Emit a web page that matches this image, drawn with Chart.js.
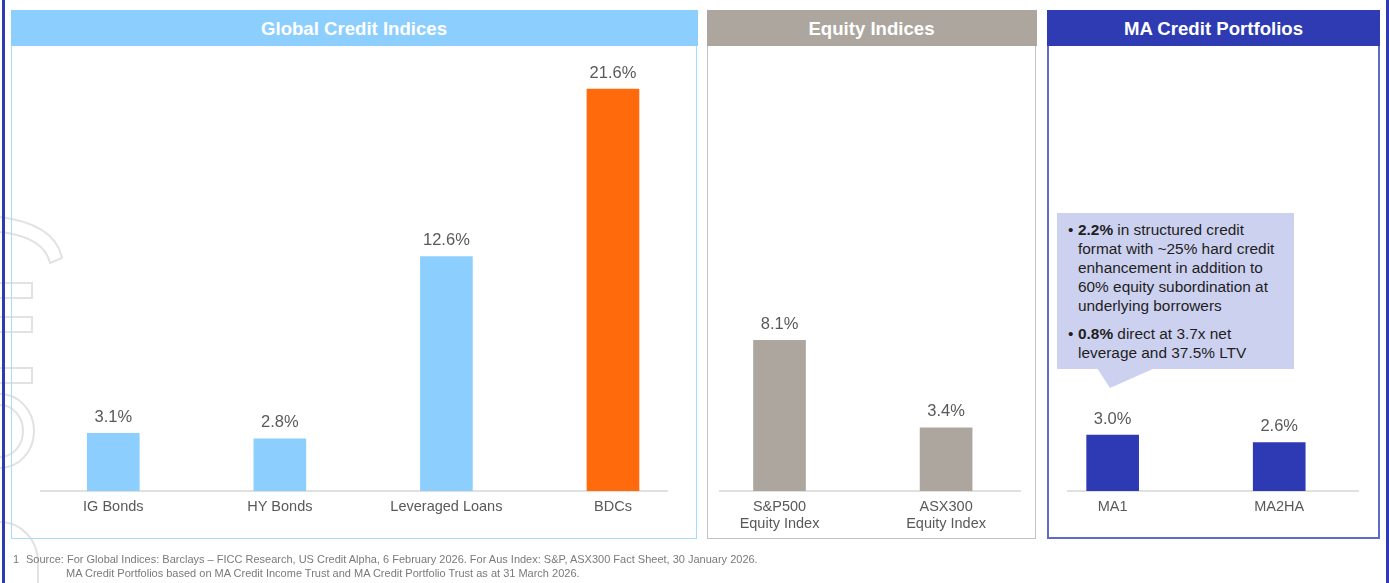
<!DOCTYPE html>
<html>
<head>
<meta charset="utf-8">
<script src="https://cdn.jsdelivr.net/npm/chart.js@4.4.1/dist/chart.umd.min.js"></script>
<style>
  html, body { margin: 0; padding: 0; background: #fff; }
  body { width: 1389px; height: 583px; position: relative; overflow: hidden; font-family: "Liberation Sans", Arial, sans-serif; }
  .edge { position: absolute; top: 0; width: 2.5px; height: 583px; background: #2e3bb3; }
  .panel { position: absolute; top: 10px; height: 529px; box-sizing: border-box; }
  .panel .head { height: 36px; line-height: 37px; text-align: center; color: #fff; font-weight: bold; font-size: 18.6px; }
  #p1 { left: 11px; width: 686px; border: 1.5px solid #a8dcff; }
  #p1 .head { background: #8ccfff; margin: -1.5px -1.5px 0 -1.5px; }
  #p2 { left: 707px; width: 329px; border: 1.5px solid #c6c2bd; }
  #p2 .head { background: #aca69f; margin: -1.5px -1.5px 0 -1.5px; }
  #p3 { left: 1047px; width: 333px; border: 2px solid #5f6bcc; }
  #p3 .head { background: #2e3bb3; margin: -2px -2px 0 -2px; }
  #chart { position: absolute; left: 0; top: 0; pointer-events: none; }
  .callout { position: absolute; left: 1057px; top: 213px; width: 237px; height: 156px; background: #cdd1f0;
             box-sizing: border-box; padding: 7px 4px 0 21px; font-size: 15.4px; line-height: 19px; color: #1e1e1e; white-space: nowrap; }
  .callout p { margin: 0; position: relative; }
  .callout p + p { margin-top: 9px; }
  .callout p::before { content: "\2022"; position: absolute; left: -10px; }
  .foot { position: absolute; font-size: 11px; color: #7a7a7a; white-space: nowrap; }
  svg { position: absolute; left: 0; top: 0; }
</style>
</head>
<body>
<svg width="1389" height="583">
  <g fill="none" stroke="#e2e2e2" stroke-width="2">
    <path d="M0,217 Q55,224 62,258 L50,263 Q44,237 0,232"/>
    <rect x="-5" y="283" width="37" height="15"/>
    <rect x="-5" y="317" width="37" height="15"/>
    <rect x="-5" y="368" width="37" height="15"/>
    <path d="M0,394 A34,37 0 0 1 0,468"/>
    <path d="M0,405 A23,26 0 0 1 0,457"/>
    <path d="M0,522 A38,40 0 0 1 38,562 L38,583"/>
  </g>
  <polygon points="1097,368 1155,368 1110,388" fill="#cdd1f0"/>
</svg>
<div class="edge" style="left:2px"></div>
<div class="edge" style="left:1386px"></div>
<div class="panel" id="p1"><div class="head">Global Credit Indices</div></div>
<div class="panel" id="p2"><div class="head">Equity Indices</div></div>
<div class="panel" id="p3"><div class="head">MA Credit Portfolios</div></div>
<div class="callout">
  <p><b>2.2%</b> in structured credit<br>format with ~25% hard credit<br>enhancement in addition to<br>60% equity subordination at<br>underlying borrowers</p>
  <p><b>0.8%</b> direct at 3.7x net<br>leverage and 37.5% LTV</p>
</div>
<canvas id="chart" width="1389" height="583"></canvas>
<div class="foot" style="left:13px; top:553px">1</div>
<div class="foot" style="left:26px; top:553px">Source: For Global Indices: Barclays – FICC Research, US Credit Alpha, 6 February 2026. For Aus Index: S&amp;P, ASX300 Fact Sheet, 30 January 2026.</div>
<div class="foot" style="left:66px; top:567px">MA Credit Portfolios based on MA Credit Income Trust and MA Credit Portfolio Trust as at 31 March 2026.</div>

<script>
// yields by index / portfolio (%)
const categories = [
    ['IG Bonds'], ['HY Bonds'], ['Leveraged Loans'], ['BDCs'],
    ['S&P500', 'Equity Index'], ['ASX300', 'Equity Index'],
    ['MA1'], ['MA2HA']
];
const yieldValues = [3.1, 2.8, 12.6, 21.6, 8.1, 3.4, 3.0, 2.6];
const barColors = ['#8ccfff', '#8ccfff', '#8ccfff', '#ff6a0d', '#aca69f', '#aca69f', '#2d3ab4', '#2d3ab4'];

// baseline pieces under each panel
const baselines = [[40, 668], [719, 1021], [1067, 1359]];

const valueLabels = {
    id: 'valueLabels',
    afterDatasetsDraw(chart) {
        const ctx = chart.ctx;
        const meta = chart.getDatasetMeta(0);
        ctx.save();
        ctx.font = '16.5px "Liberation Sans", Arial, sans-serif';
        ctx.fillStyle = '#595959';
        ctx.textAlign = 'center';
        ctx.textBaseline = 'middle';
        meta.data.forEach((bar, i) => {
            ctx.fillText(yieldValues[i].toFixed(1) + '%', bar.x, bar.y - 16);
        });
        ctx.restore();
    }
};

const baseLine = {
    id: 'baseLine',
    beforeDatasetsDraw(chart) {
        const ctx = chart.ctx;
        const y = chart.scales.y.getPixelForValue(0);
        ctx.save();
        ctx.strokeStyle = '#d6d6d6';
        ctx.lineWidth = 1.5;
        baselines.forEach(b => {
            ctx.beginPath();
            ctx.moveTo(b[0], y);
            ctx.lineTo(b[1], y);
            ctx.stroke();
        });
        ctx.restore();
    }
};

Chart.defaults.font.family = '"Liberation Sans", Arial, sans-serif';

const ctx = document.getElementById('chart').getContext('2d');
const yieldChart = new Chart(ctx, {
    type: 'bar',
    data: {
        labels: categories,
        datasets: [{
            data: yieldValues,
            backgroundColor: barColors,
            barThickness: 52
        }]
    },
    options: {
        responsive: false,
        animation: false,
        layout: { padding: { left: 30, right: 26.5, top: 63, bottom: 52 } },
        plugins: { legend: { display: false }, tooltip: { enabled: false } },
        scales: {
            x: {
                offset: true,
                grid: { display: false, drawTicks: false },
                border: { display: false },
                ticks: { color: '#595959', font: { size: 14.5 }, padding: 7, maxRotation: 0, autoSkip: false },
                afterFit(scale) { scale.height = 40; }
            },
            y: {
                display: false,
                min: 0,
                max: 23
            }
        }
    },
    plugins: [baseLine, valueLabels]
});
</script>
</body>
</html>
